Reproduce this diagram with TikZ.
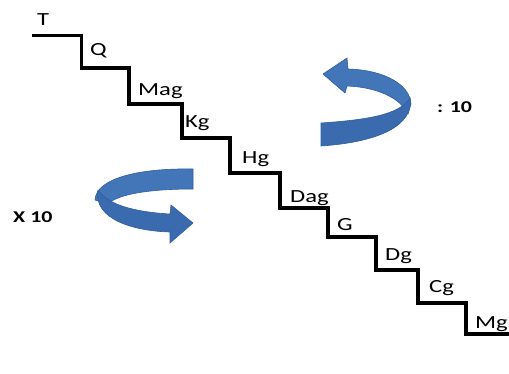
\documentclass[tikz,border=0pt]{standalone}
\usepackage{fontspec}
\setmainfont{Carlito}
\usepackage{graphicx}
\definecolor{arrowblue}{HTML}{4276B9}
\definecolor{arrowdark}{HTML}{2E5E9E}
\definecolor{arrowfront}{HTML}{3A6BAE}
\tikzset{
  stair/.style={line width=3.5pt, line join=miter, black},
  lbl/.style={anchor=base west, inner sep=0pt, font=\fontsize{18.5}{20}\selectfont},
  oplbl/.style={anchor=base west, inner sep=0pt, font=\fontsize{16.5}{18}\selectfont\bfseries},
  ribbonback/.style={fill=arrowblue, draw=arrowdark, line width=0.6pt},
  ribbonfront/.style={fill=arrowfront, draw=arrowdark, line width=0.6pt}
}
\newcommand{\widetxt}[1]{\scalebox{1.33}[1]{#1}}
\begin{document}
\begin{tikzpicture}[x=1pt,y=-1pt]
\useasboundingbox (0,0) rectangle (509,373);
% staircase
\draw[stair] (32,35.5) -- (81.5,35.5) -- (81.5,68) -- (129,68) -- (129,104) -- (182,104) -- (182,138) -- (230,138) -- (230,173) -- (280,173) -- (280,208) -- (328,208) -- (328,237) -- (376,237) -- (376,270) -- (418,270) -- (418,303) -- (466,303) -- (466,334) -- (509,334);
% labels
\node[lbl] (t) at (37,25) {\widetxt{T}};
\node[lbl] (q) at (90,55) {\widetxt{Q}};
\node[lbl] (mag) at (138,95) {\widetxt{Mag}};
\node[lbl] (kg) at (185,127) {\widetxt{Kg}};
\node[lbl] (hg) at (242,163) {\widetxt{Hg}};
\node[lbl] (dag) at (290,202) {\widetxt{Dag}};
\node[lbl] (g) at (337,230) {\widetxt{G}};
\node[lbl] (dg) at (385,260) {\widetxt{Dg}};
\node[lbl] (cg) at (429,292) {\widetxt{Cg}};
\node[lbl] (mg) at (475,328) {\widetxt{Mg}};
\node[oplbl] (div) at (437,112) {\widetxt{: 10}};
\node[oplbl] (mul) at (13,222) {\widetxt{X 10}};
% upper-right curved arrow (divide)
\path[ribbonback] (411,104) .. controls (410,85) and (385,70) .. (348,69) -- (347,58) -- (323,74) -- (345,93) -- (347,86) .. controls (375,87) and (400,97) .. (408,114) -- cycle;
\path[ribbonfront] (321,123) .. controls (365,120) and (400,115) .. (410,98) .. controls (414,125) and (380,142) .. (321,146) -- cycle;
% lower-left curved arrow (multiply)
\path[ribbonback] (193,169) .. controls (140,168) and (96,178) .. (95,200) -- (108,204) .. controls (118,194) and (150,189) .. (193,189) -- cycle;
\path[ribbonfront] (98,190) .. controls (93,220) and (135,231) .. (170,232) -- (170,243) -- (193,223) -- (171,205) -- (170,214) .. controls (135,212) and (108,205) .. (98,190) -- cycle;
\end{tikzpicture}
\end{document}
